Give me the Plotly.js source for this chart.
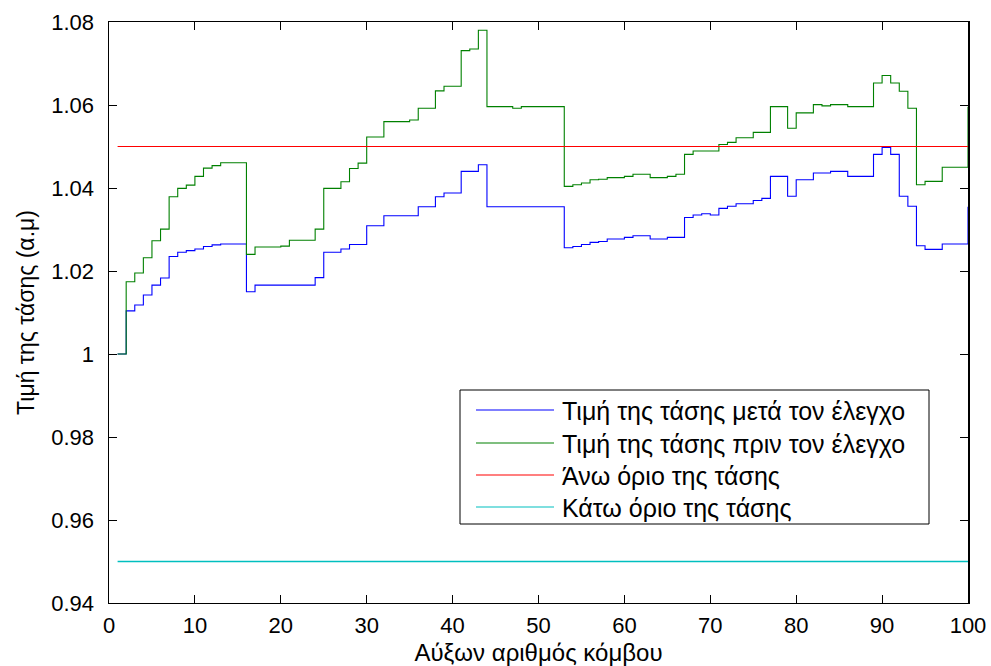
<!DOCTYPE html>
<html>
<head>
<meta charset="utf-8">
<script src="https://cdn.plot.ly/plotly-3.0.1.min.js"></script>
<style>
html,body{margin:0;padding:0;background:#fff;}
#chart{width:991px;height:666px;}
</style>
</head>
<body>
<div id="chart"></div>
<script>
// Node indices 1..100
var nodes = [];
for (var i = 1; i <= 100; i++) nodes.push(i);

// Voltage after control (blue)
var voltageAfter = [
  1.0000, 1.0104, 1.0118, 1.0142, 1.0166, 1.0183, 1.0235, 1.0245, 1.0249, 1.0253,
  1.0259, 1.0263, 1.0265, 1.0265, 1.0265, 1.0150, 1.0166, 1.0166, 1.0166, 1.0166,
  1.0166, 1.0166, 1.0166, 1.0184, 1.0245, 1.0245, 1.0253, 1.0264, 1.0264, 1.0309,
  1.0309, 1.0333, 1.0333, 1.0333, 1.0333, 1.0355, 1.0355, 1.0379, 1.0388, 1.0388,
  1.0440, 1.0440, 1.0456, 1.0355, 1.0355, 1.0355, 1.0355, 1.0355, 1.0355, 1.0355,
  1.0355, 1.0355, 1.0256, 1.0259, 1.0264, 1.0269, 1.0271, 1.0277, 1.0277, 1.0281,
  1.0285, 1.0285, 1.0277, 1.0277, 1.0281, 1.0281, 1.0329, 1.0335, 1.0338, 1.0335,
  1.0351, 1.0356, 1.0362, 1.0362, 1.0370, 1.0375, 1.0428, 1.0428, 1.0380, 1.0420,
  1.0420, 1.0436, 1.0436, 1.0440, 1.0440, 1.0428, 1.0428, 1.0428, 1.0481, 1.0498,
  1.0481, 1.0380, 1.0356, 1.0261, 1.0252, 1.0252, 1.0265, 1.0265, 1.0265, 1.0355
];

// Voltage before control (green)
var voltageBefore = [
  1.0000, 1.0174, 1.0195, 1.0232, 1.0273, 1.0301, 1.0379, 1.0399, 1.0407, 1.0428,
  1.0448, 1.0454, 1.0461, 1.0461, 1.0461, 1.0240, 1.0258, 1.0258, 1.0258, 1.0260,
  1.0274, 1.0274, 1.0274, 1.0301, 1.0399, 1.0399, 1.0415, 1.0447, 1.0460, 1.0523,
  1.0523, 1.0560, 1.0560, 1.0560, 1.0564, 1.0592, 1.0592, 1.0634, 1.0645, 1.0645,
  1.0731, 1.0735, 1.0780, 1.0596, 1.0596, 1.0596, 1.0592, 1.0596, 1.0596, 1.0596,
  1.0596, 1.0596, 1.0404, 1.0408, 1.0412, 1.0420, 1.0421, 1.0425, 1.0425, 1.0428,
  1.0433, 1.0433, 1.0425, 1.0425, 1.0428, 1.0433, 1.0481, 1.0489, 1.0489, 1.0489,
  1.0505, 1.0510, 1.0521, 1.0521, 1.0534, 1.0534, 1.0596, 1.0596, 1.0544, 1.0581,
  1.0581, 1.0601, 1.0598, 1.0601, 1.0601, 1.0596, 1.0596, 1.0596, 1.0653, 1.0671,
  1.0653, 1.0633, 1.0592, 1.0408, 1.0416, 1.0416, 1.0450, 1.0450, 1.0450, 1.0596
];

var limitX = [1, 100];
var upperLimit = [1.05, 1.05];
var lowerLimit = [0.95, 0.95];

var seriesNames = [
  'Τιμή της τάσης μετά τον έλεγχο',
  'Τιμή της τάσης πριν τον έλεγχο',
  'Άνω όριο της τάσης',
  'Κάτω όριο της τάσης'
];
var seriesColors = ['#0000ff', '#008000', '#ff0000', '#00bfbf'];

var xTickVals = [0, 10, 20, 30, 40, 50, 60, 70, 80, 90, 100];
var yTickVals = [0.94, 0.96, 0.98, 1.00, 1.02, 1.04, 1.06, 1.08];
var yTickText = ['0.94', '0.96', '0.98', '1', '1.02', '1.04', '1.06', '1.08'];

var FONT = 'Arial, "Liberation Sans", sans-serif';

var traces = [
  {x: nodes, y: voltageAfter, type: 'scatter', mode: 'lines', line: {shape: 'hv', color: seriesColors[0], width: 1.1}, name: seriesNames[0], showlegend: false},
  {x: nodes, y: voltageBefore, type: 'scatter', mode: 'lines', line: {shape: 'hv', color: seriesColors[1], width: 1.1}, name: seriesNames[1], showlegend: false},
  {x: limitX, y: upperLimit, type: 'scatter', mode: 'lines', line: {color: seriesColors[2], width: 1.1}, name: seriesNames[2], showlegend: false},
  {x: limitX, y: lowerLimit, type: 'scatter', mode: 'lines', line: {color: seriesColors[3], width: 1.3}, name: seriesNames[3], showlegend: false}
];

// Manual legend (paper coordinates), MATLAB-style box
var L = 109, R = 968, T = 22, B = 603;
function px(x) { return (x - L) / (R - L); }
function py(y) { return (B - y) / (B - T); }
var shapes = [{
  type: 'rect', xref: 'paper', yref: 'paper',
  x0: px(460), x1: px(929), y0: py(524), y1: py(390),
  line: {color: '#000', width: 1}, fillcolor: '#fff', layer: 'above'
}];
var annotations = [];
var rowY = [410, 443, 475, 507];
for (var k = 0; k < 4; k++) {
  shapes.push({
    type: 'line', xref: 'paper', yref: 'paper',
    x0: px(476), x1: px(554), y0: py(rowY[k]), y1: py(rowY[k]),
    line: {color: seriesColors[k], width: 1.1}, layer: 'above'
  });
  annotations.push({
    xref: 'paper', yref: 'paper', x: px(560), y: py(rowY[k] + 1),
    xanchor: 'left', yanchor: 'middle', showarrow: false,
    text: seriesNames[k], font: {family: FONT, size: 25, color: '#000'}
  });
}

var layout = {
  width: 991, height: 666,
  margin: {l: 109, r: 23, t: 22, b: 63, pad: 0},
  paper_bgcolor: '#fff', plot_bgcolor: '#fff',
  font: {family: FONT, size: 22, color: '#000'},
  showlegend: false,
  xaxis: {
    range: [0, 100], tickvals: xTickVals, ticks: 'inside', ticklen: 8, tickcolor: '#000',
    showline: true, linecolor: '#000', linewidth: 1, mirror: 'ticks',
    showgrid: false, zeroline: false, ticklabelstandoff: 3,
    tickfont: {family: FONT, size: 22, color: '#000'},
    title: {text: 'Αύξων αριθμός κόμβου', font: {family: FONT, size: 24, color: '#000'}, standoff: 6}
  },
  yaxis: {
    range: [0.94, 1.08], tickvals: yTickVals, ticktext: yTickText, ticks: 'inside', ticklen: 8, tickcolor: '#000',
    showline: true, linecolor: '#000', linewidth: 1.5, mirror: 'ticks',
    showgrid: false, zeroline: false, ticklabelstandoff: 9,
    tickfont: {family: FONT, size: 22, color: '#000'},
    title: {text: 'Τιμή της τάσης (α.μ)', font: {family: FONT, size: 23, color: '#000'}, standoff: 10}
  },
  shapes: shapes,
  annotations: annotations
};

Plotly.newPlot('chart', traces, layout, {displayModeBar: false, staticPlot: true});
</script>
</body>
</html>
